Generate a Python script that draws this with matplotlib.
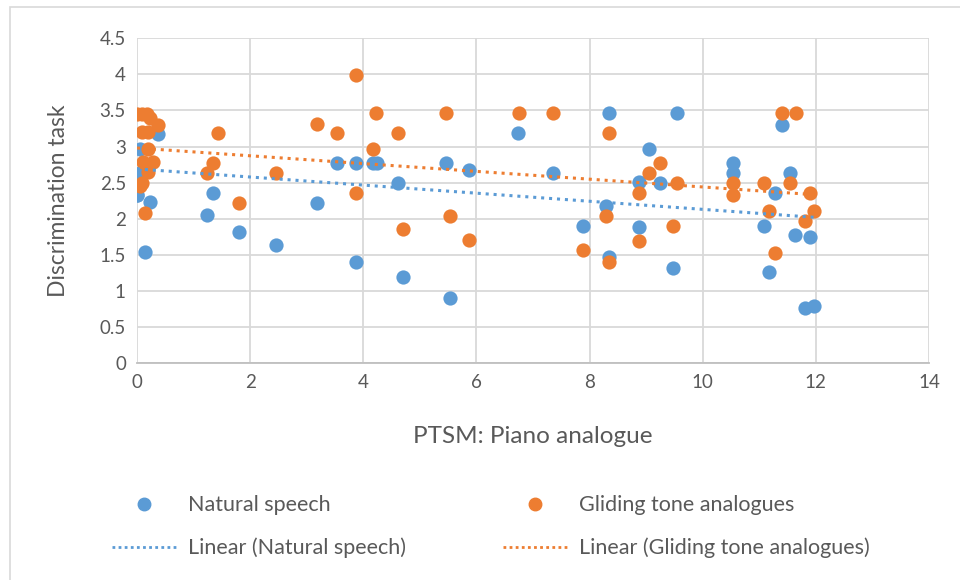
# Discrimination task vs PTSM piano analogue scatter, with linear trends

import numpy as np
import matplotlib.pyplot as plt
from matplotlib.lines import Line2D
from matplotlib.patches import Rectangle

plt.rcParams['font.family'] = ['Lato', 'DejaVu Sans']

speech_x = [0.0, 0.05, 0.05, 0.0, 0.23, 0.14, 0.37,
            1.34, 1.23, 1.81, 2.45, 3.18, 3.54, 3.88, 4.17, 4.24, 3.88,
            4.62, 4.71, 5.46, 5.53, 5.87, 6.74, 7.35, 7.89, 8.29, 8.34,
            8.34, 8.88, 8.88, 9.05, 9.25, 9.47, 9.54, 10.54, 10.54, 11.08,
            11.18, 11.27, 11.40, 11.55, 11.64, 11.90, 11.80, 11.97]
speech_y = [2.33, 2.97, 2.63, 2.33, 2.23, 1.54, 3.17,
            2.36, 2.05, 1.82, 1.63, 2.22, 2.77, 2.77, 2.77, 2.77, 1.40,
            2.49, 1.19, 2.77, 0.90, 2.68, 3.19, 2.63, 1.90, 2.18, 3.47,
            1.47, 2.51, 1.89, 2.97, 2.49, 1.32, 3.47, 2.77, 2.63, 1.90,
            1.26, 2.36, 3.30, 2.64, 1.78, 1.74, 0.76, 0.79]

tone_x = [0.0, 0.08, 0.17, 0.23, 0.37, 0.08, 0.2, 0.2, 0.1, 0.28, 0.2, 0.08, 0.05, 0.14,
          1.43, 1.34, 1.23, 1.81, 2.45, 3.18, 3.54, 3.88, 4.22, 4.17, 3.88,
          4.62, 4.71, 5.46, 5.53, 5.87, 6.76, 7.35, 7.89, 8.29, 8.34, 8.34,
          8.88, 8.88, 9.05, 9.25, 9.47, 9.54, 10.54, 10.54, 11.08, 11.18,
          11.27, 11.40, 11.65, 11.55, 11.80, 11.90, 11.97]
tone_y = [3.45, 3.45, 3.45, 3.40, 3.30, 3.20, 3.20, 2.97, 2.78, 2.78, 2.65, 2.49, 2.45, 2.08,
          3.19, 2.77, 2.63, 2.22, 2.63, 3.31, 3.19, 3.99, 3.47, 2.97, 2.36,
          3.19, 1.86, 3.47, 2.04, 1.70, 3.47, 3.47, 1.56, 2.04, 3.19, 1.40,
          2.36, 1.69, 2.63, 2.77, 1.90, 2.49, 2.49, 2.33, 2.49, 2.11,
          1.53, 3.47, 3.47, 2.49, 1.97, 2.36, 2.11]

# trend lines: (slope, intercept)
speech_trend = (-0.056, 2.69)
tone_trend = (-0.054, 2.98)

blue = '#5B9BD5'
orange = '#ED7D31'
grey = '#595959'

fig = plt.figure(figsize=(9.6, 5.8), dpi=100)
fig.patches.append(Rectangle((10 / 960, -0.05), 1.0, 1.05 - 7 / 580, transform=fig.transFigure,
                             fill=False, edgecolor='#D9D9D9', lw=1.2))
ax = fig.add_axes([0.1427, 0.374, 0.825, 0.560])

ax.scatter(speech_x, speech_y, s=105, color=blue, zorder=3, linewidths=0)
ax.scatter(tone_x, tone_y, s=105, color=orange, zorder=3, linewidths=0)

for xs, (k, b), c in [(speech_x, speech_trend, blue), (tone_x, tone_trend, orange)]:
    tx = np.array([min(xs), max(xs)])
    ax.plot(tx, k * tx + b, color=c, lw=2.2, ls=(0, (1, 1.6)), zorder=4)

ax.set_xlim(0, 14)
ax.set_ylim(0, 4.5)
ax.set_xticks(range(0, 15, 2))
ax.set_yticks(np.arange(0, 4.51, 0.5))
ax.set_yticklabels(['0', '0.5', '1', '1.5', '2', '2.5', '3', '3.5', '4', '4.5'])
ax.grid(True, color='#D9D9D9', lw=1.3, zorder=0)
ax.set_axisbelow(True)
for s in ['top', 'right', 'left']:
    ax.spines[s].set_visible(False)
ax.spines['bottom'].set_color('#BFBFBF')
ax.spines['bottom'].set_linewidth(1.3)
ax.tick_params(length=0, labelsize=13.5, labelcolor=grey, pad=8)

ax.set_xlabel('PTSM: Piano analogue', fontsize=17.5, color=grey, labelpad=25)
ax.set_ylabel('Discrimination task', fontsize=16.5, color=grey, labelpad=22)

handles = [
    Line2D([], [], ls='none', marker='o', ms=9, color=blue, label='Natural speech'),
    Line2D([], [], color=blue, lw=2, ls=(0, (1, 1.2)), label='Linear (Natural speech)'),
    Line2D([], [], ls='none', marker='o', ms=9, color=orange, label='Gliding tone analogues'),
    Line2D([], [], color=orange, lw=2, ls=(0, (1, 1.2)), label='Linear (Gliding tone analogues)'),
]
fig.legend(handles=handles, loc='center left', bbox_to_anchor=(0.096, 0.092), ncol=2,
           frameon=False, fontsize=15.5, labelcolor=grey, columnspacing=4.5,
           handlelength=3.0, handletextpad=0.55, labelspacing=1.05)

fig.savefig('out.png', dpi=100)
